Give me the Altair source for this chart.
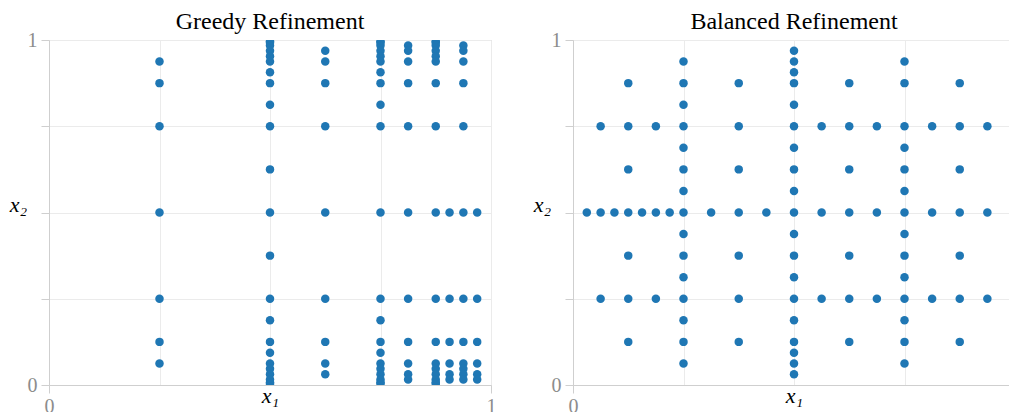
import altair as alt
import pandas as pd

# ---- Greedy refinement: x position of each column and the x2 values sampled there
greedy_x = [0.25, 0.5, 0.625, 0.75, 0.8125, 0.875, 0.90625, 0.9375, 0.96875]
greedy_y = [
    [0.9375, 0.875, 0.75, 0.5, 0.25, 0.125, 0.0625],
    [0.99609375, 0.9921875, 0.984375, 0.96875, 0.953125, 0.9375, 0.90625, 0.875, 0.8125,
     0.75, 0.625, 0.5, 0.375, 0.25, 0.1875, 0.125, 0.09375, 0.0625, 0.046875, 0.03125,
     0.015625, 0.0078125, 0.00390625],
    [0.96875, 0.9375, 0.875, 0.75, 0.5, 0.25, 0.125, 0.0625, 0.03125],
    [0.99609375, 0.9921875, 0.984375, 0.96875, 0.953125, 0.9375, 0.90625, 0.875, 0.8125,
     0.75, 0.5, 0.25, 0.1875, 0.125, 0.09375, 0.0625, 0.046875, 0.03125, 0.015625,
     0.0078125, 0.00390625],
    [0.984375, 0.96875, 0.9375, 0.875, 0.75, 0.5, 0.25, 0.125, 0.0625, 0.03125, 0.015625],
    [0.99609375, 0.9921875, 0.984375, 0.96875, 0.953125, 0.9375, 0.875, 0.75, 0.5, 0.25,
     0.125, 0.0625, 0.046875, 0.03125, 0.015625, 0.0078125, 0.00390625],
    [0.5, 0.25, 0.125, 0.0625, 0.03125, 0.015625],
    [0.984375, 0.96875, 0.9375, 0.875, 0.75, 0.5, 0.25, 0.125, 0.0625, 0.046875, 0.03125,
     0.015625],
    [0.5, 0.25, 0.125, 0.0625, 0.03125, 0.015625],
]

# ---- Balanced refinement: vertical lines of points (x fixed) ...
balanced_col_x = [0.125, 0.25, 0.375, 0.5, 0.625, 0.75, 0.875]
balanced_col_y = [
    [0.875, 0.75, 0.625, 0.5, 0.375, 0.25, 0.125],
    [0.9375, 0.875, 0.8125, 0.75, 0.6875, 0.625, 0.5625, 0.5, 0.4375, 0.375, 0.3125, 0.25,
     0.1875, 0.125, 0.0625],
    [0.875, 0.75, 0.625, 0.5, 0.375, 0.25, 0.125],
    [0.96875, 0.9375, 0.90625, 0.875, 0.8125, 0.75, 0.6875, 0.625, 0.5625, 0.5, 0.4375,
     0.375, 0.3125, 0.25, 0.1875, 0.125, 0.09375, 0.0625, 0.03125],
    [0.875, 0.75, 0.625, 0.5, 0.375, 0.25, 0.125],
    [0.9375, 0.875, 0.75, 0.6875, 0.625, 0.5625, 0.5, 0.4375, 0.375, 0.3125, 0.25, 0.1875,
     0.125, 0.0625],
    [0.875, 0.75, 0.625, 0.5, 0.375, 0.25, 0.125],
]
# ... and horizontal lines of points (x2 fixed)
balanced_row_y = [0.75, 0.5, 0.25]
balanced_row_x = [
    [0.0625, 0.125, 0.1875, 0.25, 0.375, 0.5, 0.5625, 0.625, 0.6875, 0.75, 0.8125, 0.875,
     0.9375],
    [0.03125, 0.0625, 0.09375, 0.125, 0.15625, 0.1875, 0.21875, 0.25, 0.3125, 0.375,
     0.4375, 0.5, 0.5625, 0.625, 0.6875, 0.75, 0.8125, 0.875, 0.9375],
    [0.0625, 0.125, 0.1875, 0.25, 0.375, 0.5, 0.5625, 0.625, 0.6875, 0.75, 0.8125, 0.875,
     0.9375],
]

greedy = pd.DataFrame(
    [(x, y) for x, ys in zip(greedy_x, greedy_y) for y in ys], columns=["x", "y"]
)
balanced = pd.DataFrame(
    [(x, y) for x, ys in zip(balanced_col_x, balanced_col_y) for y in ys]
    + [(x, y) for y, xs in zip(balanced_row_y, balanced_row_x) for x in xs],
    columns=["x", "y"],
).drop_duplicates()

SERIF = "Liberation Serif, DejaVu Serif, serif"
GRID = "#ebebeb"
LINE = "#cfcfcf"
LABEL = "#8c8c8c"
TICKS = [0, 0.25, 0.5, 0.75, 1]
END_LABELS = "datum.value == 0 ? '0' : datum.value == 1 ? '1' : ''"


def panel(df, title):
    x_axis = alt.Axis(
        values=TICKS, grid=True, gridColor=GRID, domainColor=LINE, tickColor=LINE,
        tickSize=8,
        tickOpacity={"condition": {"test": "datum.value == 0 || datum.value == 1",
                                   "value": 1}, "value": 0},
        labelExpr=END_LABELS, labelFlush=False, labelOverlap=False,
        labelFont=SERIF, labelFontSize=20, labelColor=LABEL, labelPadding=3,
        title="x₁", titleFont=SERIF, titleFontStyle="italic", titleFontWeight="normal",
        titleFontSize=22, titleColor="black", titleAlign="center",
        titleBaseline="alphabetic", titleX=221, titleY=17,
    )
    y_axis = alt.Axis(
        values=TICKS, grid=True, gridColor=GRID, domainColor=LINE, tickColor=LINE,
        tickSize=8,
        labelExpr=END_LABELS, labelFlush=False, labelOverlap=False,
        labelFont=SERIF, labelFontSize=20, labelColor=LABEL, labelPadding=4,
        title="x₂", titleFont=SERIF, titleFontStyle="italic", titleFontWeight="normal",
        titleFontSize=22, titleColor="black", titleAngle=0, titleAlign="center",
        titleBaseline="alphabetic", titleX=-31, titleY=171,
    )
    return (
        alt.Chart(df)
        .mark_circle(size=72, color="#1f77b4", opacity=1, clip=True)
        .encode(
            x=alt.X("x:Q", scale=alt.Scale(domain=[0, 1], nice=False, zero=False), axis=x_axis),
            y=alt.Y("y:Q", scale=alt.Scale(domain=[0, 1], nice=False, zero=False), axis=y_axis),
        )
        .properties(
            width=442,
            height=345,
            title=alt.TitleParams(
                text=title, font=SERIF, fontSize=24, fontWeight="normal", color="black",
                anchor="middle", frame="group", baseline="alphabetic", offset=0, dy=23,
            ),
        )
    )


chart = (
    alt.hconcat(panel(greedy, "Greedy Refinement"), panel(balanced, "Balanced Refinement"),
                spacing=82, bounds="flush")
    .properties(
        autosize=alt.AutoSizeParams(type="none"),
        padding={"left": 49, "top": 40, "right": 960, "bottom": 372},
    )
    .configure_view(stroke=LINE, strokeWidth=1)
)

chart.save("out.html", embed_options={"renderer": "svg", "actions": False})
